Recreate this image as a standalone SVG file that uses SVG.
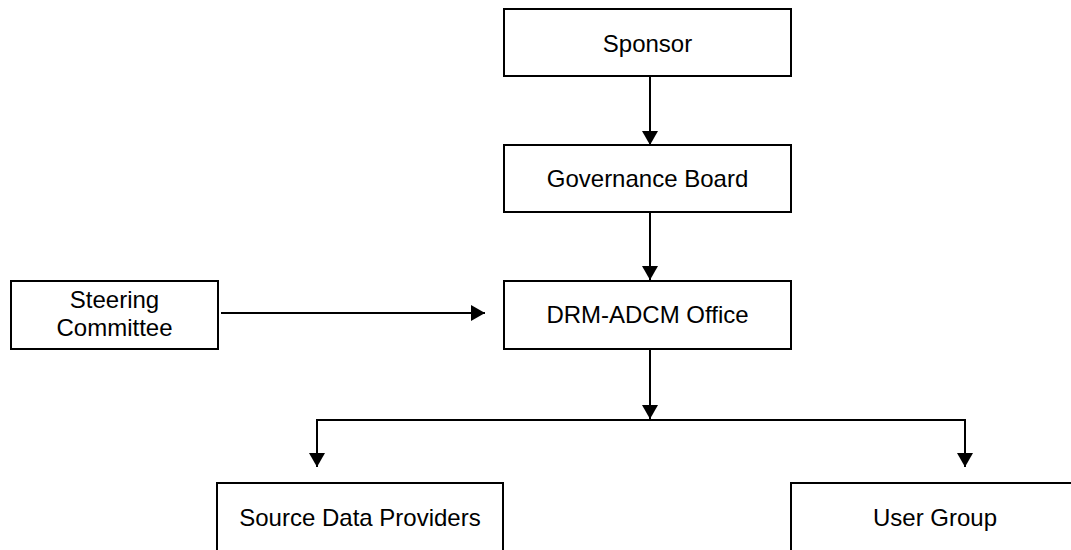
<svg xmlns="http://www.w3.org/2000/svg" width="1071" height="550" viewBox="0 0 1071 550">
<style>
.box{fill:#fff;stroke:#000;stroke-width:2}
.lbl{font-family:"Liberation Sans",Arial,sans-serif;font-size:24px;fill:#000;text-anchor:middle}
.conn{fill:none;stroke:#000;stroke-width:2}
</style>
<defs>
<marker id="arr" markerUnits="userSpaceOnUse" markerWidth="16" markerHeight="16" viewBox="0 0 16 16" refX="14" refY="8" orient="auto">
<path d="M0,0 L14,8 L0,16 Z" fill="#000"/>
</marker>
</defs>
<rect width="1071" height="550" fill="#fff"/>
<g id="connectors">
<line class="conn" x1="650" y1="76" x2="650" y2="145" marker-end="url(#arr)"/>
<line class="conn" x1="650" y1="212" x2="650" y2="280" marker-end="url(#arr)"/>
<line class="conn" x1="221" y1="313" x2="485" y2="313" marker-end="url(#arr)"/>
<line class="conn" x1="650" y1="349" x2="650" y2="419" marker-end="url(#arr)"/>
<line class="conn" x1="316" y1="420" x2="966" y2="420"/>
<line class="conn" x1="317" y1="420" x2="317" y2="467" marker-end="url(#arr)"/>
<line class="conn" x1="965" y1="420" x2="965" y2="467" marker-end="url(#arr)"/>
</g>
<g id="sponsor">
<rect class="box" x="504" y="9" width="287" height="67"/>
<text class="lbl" x="647.5" y="52">Sponsor</text>
</g>
<g id="governance-board">
<rect class="box" x="504" y="145" width="287" height="67"/>
<text class="lbl" x="647.5" y="187">Governance Board</text>
</g>
<g id="drm-adcm-office">
<rect class="box" x="504" y="281" width="287" height="68"/>
<text class="lbl" x="647.5" y="323">DRM-ADCM Office</text>
</g>
<g id="steering-committee">
<rect class="box" x="11" y="281" width="207" height="68"/>
<text class="lbl" x="114.5" y="308">Steering</text>
<text class="lbl" x="114.5" y="336">Committee</text>
</g>
<g id="source-data-providers">
<rect class="box" x="217" y="483" width="286" height="80"/>
<text class="lbl" x="360" y="526">Source Data Providers</text>
</g>
<g id="user-group">
<rect class="box" x="791" y="483" width="290" height="80"/>
<text class="lbl" x="935" y="526">User Group</text>
</g>
</svg>
